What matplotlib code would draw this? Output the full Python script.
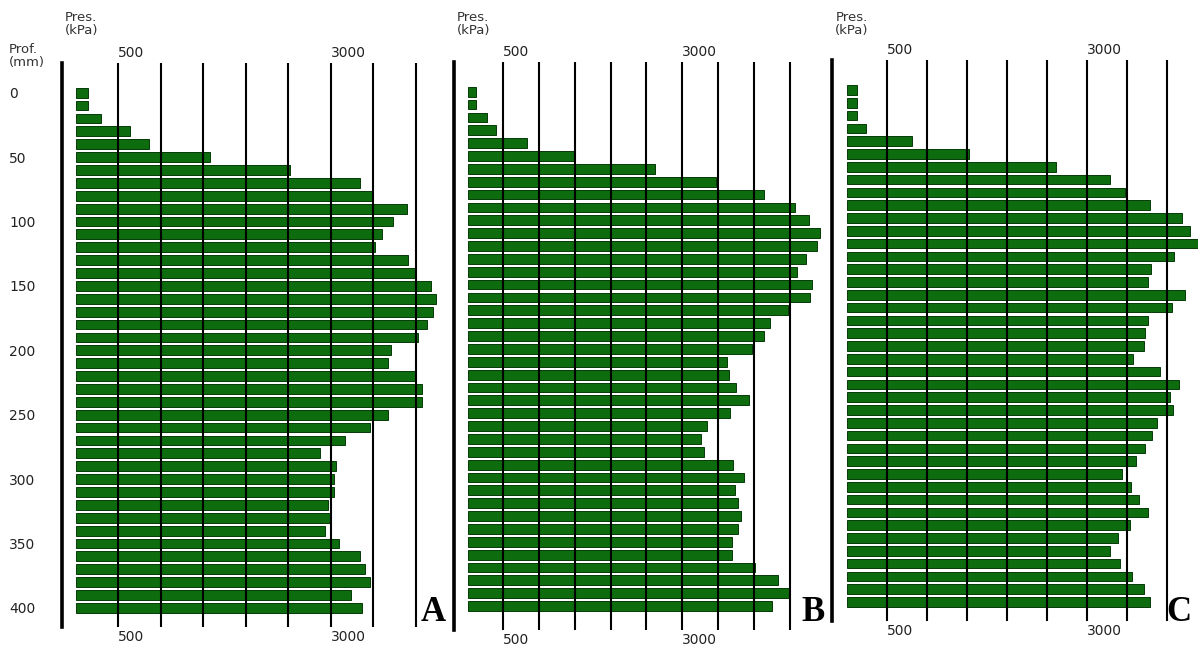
import matplotlib
matplotlib.use("Agg")
import matplotlib.pyplot as plt

# depth of each reading (mm)
depth = list(range(0, 410, 10))

# cone resistance per depth (kPa) for the three profiles
pres_a = [150, 150, 300, 640, 865, 1585, 2520, 3340, 3500, 3895,
          3730, 3600, 3525, 3910, 3995, 4185, 4245, 4205, 4135, 4025,
          3710, 3670, 3995, 4075, 4075, 3670, 3460, 3175, 2880, 3065,
          3040, 3040, 2965, 3000, 2930, 3100, 3340, 3410, 3460, 3245,
          3375]
pres_b = [120, 120, 275, 400, 830, 1490, 2620, 3475, 4140, 4580,
          4770, 4925, 4885, 4730, 4605, 4815, 4790, 4475, 4230, 4140,
          3970, 3630, 3650, 3750, 3930, 3665, 3345, 3260, 3305, 3710,
          3860, 3730, 3780, 3820, 3780, 3690, 3690, 4020, 4335, 4495,
          4255]
pres_c = [125, 125, 125, 240, 815, 1530, 2615, 3290, 3480, 3790,
          4190, 4285, 4385, 4090, 3805, 3770, 4225, 4070, 3765, 3730,
          3710, 3575, 3915, 4155, 4035, 4075, 3880, 3820, 3730, 3610,
          3440, 3555, 3650, 3765, 3535, 3385, 3290, 3415, 3570, 3710,
          3790]

grid_a = [500, 1000, 1500, 2000, 2500, 3000, 3500, 4000]
grid_b = [500, 1000, 1500, 2000, 2500, 3000, 3500, 4000, 4500]
grid_c = [500, 1000, 1500, 2000, 2500, 3000, 3500, 4000]
labelled = {500: "500", 3000: "3000"}
depth_ticks = [0, 50, 100, 150, 200, 250, 300, 350, 400]

W, H = 1198, 648
fig = plt.figure(figsize=(W / 100, H / 100), dpi=100)

BAR = "#0d6c0d"
EDGE = "#063a06"
INK = "#222222"


def panel(values, grid, letter, left, right, top, bottom, zero, kpa_px, d0, mm_px,
          letter_x, show_depth):
    ax = fig.add_axes([left / W, 1 - bottom / H, (right - left) / W, (bottom - top) / H])
    ax.barh(depth, values, height=7.6, color=BAR, edgecolor=EDGE, linewidth=0.7, zorder=1)
    ax.set_xlim((left - zero) / kpa_px, (right - zero) / kpa_px)
    ax.set_ylim((bottom - d0) / mm_px, (top - d0) / mm_px)

    # pressure lines drawn over the bars
    for g in grid:
        ax.axvline(g, color="black", linewidth=1.5, zorder=3)

    ax.set_xticks(grid)
    ax.set_xticklabels([labelled.get(g, "") for g in grid])
    ax.tick_params(axis="x", top=True, labeltop=True, bottom=True, labelbottom=True,
                   length=0, pad=2, labelsize=10, labelcolor=INK)
    for t in ax.xaxis.get_major_ticks():
        t.label1.set_ha("left")
        t.label2.set_ha("left")

    if show_depth:
        ax.set_yticks(depth_ticks)
        ax.set_yticklabels([str(d) for d in depth_ticks])
        ax.tick_params(axis="y", length=0, pad=38, labelsize=10, labelcolor=INK)
        for t in ax.yaxis.get_major_ticks():
            t.label1.set_ha("left")
    else:
        ax.set_yticks([])

    for s in ("top", "right", "bottom"):
        ax.spines[s].set_visible(False)
    ax.spines["left"].set_linewidth(2.6)
    ax.spines["left"].set_color("black")
    ax.patch.set_alpha(0)

    fig.text((left + 3) / W, 1 - 11 / H, "Pres.\n(kPa)", fontsize=9.5, color="#333333",
             va="top", ha="left", linespacing=1.0)
    fig.text(letter_x / W, 1 - 621 / H, letter, fontsize=25, fontweight="bold",
             family="Liberation Serif", va="baseline", ha="left", color="black")
    return ax


panel(pres_a, grid_a, "A", 62, 445, 63, 627, 75.6, 0.085, 92.7, 1.288, 421, True)
panel(pres_b, grid_b, "B", 454, 826, 62, 630, 467.5, 0.0716, 91.7, 1.286, 801, False)
panel(pres_c, grid_c, "C", 832.3, 1198, 60, 621, 846.7, 0.08, 90, 1.28, 1166, False)

fig.text(9 / W, 1 - 43 / H, "Prof.\n(mm)", fontsize=9.5, color="#333333",
         va="top", ha="left", linespacing=1.0)

fig.savefig("out.png", dpi=100, facecolor="white")
